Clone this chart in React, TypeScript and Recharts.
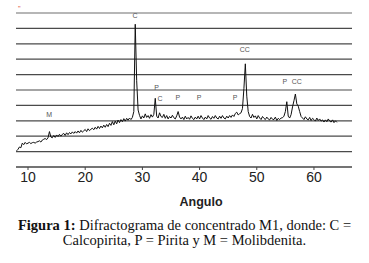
import { LineChart, Line, XAxis, YAxis, CartesianGrid, ReferenceLine, ReferenceDot } from 'recharts'

// sampling of the diffractogram (2θ, degrees)
const START_ANGLE = 8
const STEP = 0.25

// intensity, in grid-line units (4 samples per degree)
const intensity = [
  1.05, 1.15, 1.3, 1.25, // 8
  1.55, 1.45, 1.6, 1.5, // 9
  1.55, 1.6, 1.52, 1.58, // 10
  1.6, 1.55, 1.62, 1.65, // 11
  1.7, 1.62, 1.75, 1.8, // 12
  1.85, 1.78, 1.9, 2.3, // 13
  1.95, 1.9, 2.05, 1.92, // 14
  2.08, 1.98, 2.12, 2.0, // 15
  2.12, 2.18, 2.05, 2.22, // 16
  2.1, 2.24, 2.15, 2.28, // 17
  2.18, 2.3, 2.2, 2.34, // 18
  2.22, 2.38, 2.26, 2.35, // 19
  2.44, 2.3, 2.48, 2.36, // 20
  2.45, 2.52, 2.42, 2.58, // 21
  2.46, 2.64, 2.5, 2.66, // 22
  2.54, 2.72, 2.58, 2.76, // 23
  2.62, 2.84, 2.7, 2.95, // 24
  2.74, 2.98, 2.8, 3.05, // 25
  2.88, 3.08, 2.94, 3.14, // 26
  2.98, 3.16, 3.04, 3.18, // 27
  3.08, 3.22, 3.6, 9.27, // 28
  5.6, 3.7, 3.35, 3.12, // 29
  3.32, 3.18, 3.45, 3.22, // 30
  3.34, 3.16, 3.4, 3.24, // 31
  3.42, 4.46, 3.3, 3.18, // 32
  3.52, 3.28, 3.22, 3.42, // 33
  3.16, 3.34, 3.12, 3.28, // 34
  3.18, 3.36, 3.2, 3.12, // 35
  3.32, 3.6, 3.24, 3.12, // 36
  3.24, 3.08, 3.3, 3.12, // 37
  3.22, 3.1, 3.32, 3.16, // 38
  3.08, 3.24, 3.12, 3.3, // 39
  3.12, 3.34, 3.18, 3.08, // 40
  3.24, 3.12, 3.34, 3.18, // 41
  3.1, 3.28, 3.16, 3.34, // 42
  3.18, 3.12, 3.3, 3.16, // 43
  3.34, 3.18, 3.12, 3.3, // 44
  3.18, 3.34, 3.22, 3.38, // 45
  3.28, 3.48, 3.56, 3.38, // 46
  3.46, 3.52, 3.8, 5.1, // 47
  6.7, 4.6, 3.6, 3.28, // 48
  3.18, 3.42, 3.22, 3.32, // 49
  3.12, 3.34, 3.18, 3.08, // 50
  3.28, 3.16, 3.08, 3.24, // 51
  3.12, 3.06, 3.22, 3.1, // 52
  3.08, 3.24, 3.02, 3.16, // 53
  3.08, 3.18, 3.2, 3.3, // 54
  3.6, 4.24, 3.3, 3.18, // 55
  3.4, 3.9, 4.3, 4.74, // 56
  4.1, 3.95, 3.6, 3.28, // 57
  3.18, 3.08, 3.26, 3.12, // 58
  3.06, 3.22, 3.02, 3.16, // 59
  3.08, 2.98, 3.18, 3.02, // 60
  3.12, 2.98, 3.06, 2.92, // 61
  3.06, 2.94, 3.12, 2.98, // 62
  2.92, 3.06, 2.88, 3.0, // 63
  2.9, // 64
]

const xTicks = [10, 20, 30, 40, 50, 60]
const gridTicks = [0, 1, 2, 3, 4, 5, 6, 7, 8, 9]

// phase labels: C = Calcopirita, P = Pirita, M = Molibdenita
const peakLabels = [
  { angle: 28.7, y: 9.82, text: 'C' },
  { angle: 32.5, y: 5.15, text: 'P' },
  { angle: 33.1, y: 4.46, text: 'C' },
  { angle: 36.2, y: 4.48, text: 'P' },
  { angle: 39.9, y: 4.48, text: 'P' },
  { angle: 46.2, y: 4.48, text: 'P' },
  { angle: 47.9, y: 7.6, text: 'CC' },
  { angle: 54.9, y: 5.54, text: 'P' },
  { angle: 57.0, y: 5.54, text: 'CC' },
  { angle: 13.7, y: 3.38, text: 'M' },
]

const data = intensity.map((v, i) => ({ angle: START_ANGLE + i * STEP, v }))

export default function App() {
  return (
    <div style={{ position: 'absolute', left: 0, top: 0, width: 369, height: 263, background: '#fff' }}>
      <LineChart width={369} height={210} data={data} margin={{ top: 13, right: 17, left: 16, bottom: 0 }}>
        <CartesianGrid horizontal vertical={false} stroke="#4a4a4a" strokeWidth={1.2} />
        <XAxis
          dataKey="angle"
          type="number"
          domain={[7.9, 66.65]}
          allowDataOverflow
          ticks={xTicks}
          height={43}
          axisLine={{ stroke: '#444', strokeWidth: 1.2 }}
          tickLine={{ stroke: '#444' }}
          tickSize={3}
          tick={{ fontSize: 14, fill: '#222', fontFamily: 'Liberation Sans' }}
          label={{ value: 'Angulo', position: 'insideBottom', offset: 4, dx: 17, fontSize: 12.5, fontWeight: 700, fill: '#222', fontFamily: 'Liberation Sans' }}
        />
        <YAxis hide domain={[0, 10]} ticks={gridTicks} interval={0} />
        <ReferenceLine y={10} stroke="#c8c8c8" strokeWidth={1.2} />
        <Line dataKey="v" stroke="#111" strokeWidth={1} dot={false} isAnimationActive={false} />
        {peakLabels.map((p, i) => (
          <ReferenceDot
            key={i}
            x={p.angle}
            y={p.y}
            r={0}
            label={{ value: p.text, position: 'center', fontSize: 7, fill: '#555', fontFamily: 'Liberation Sans' }}
          />
        ))}
      </LineChart>
      <div style={{ position: 'absolute', left: 18, top: 5, fontSize: 7, color: '#d33', fontFamily: 'Liberation Sans' }}>''</div>
      <div
        style={{
          position: 'absolute',
          left: 0,
          top: 218,
          width: 369,
          textAlign: 'center',
          fontFamily: 'Liberation Serif',
          fontSize: 14.5,
          lineHeight: '15px',
          color: '#111',
        }}
      >
        <b>Figura 1:</b> Difractograma de concentrado M1, donde: C =<br />
        Calcopirita, P = Pirita y M = Molibdenita.
      </div>
    </div>
  )
}
